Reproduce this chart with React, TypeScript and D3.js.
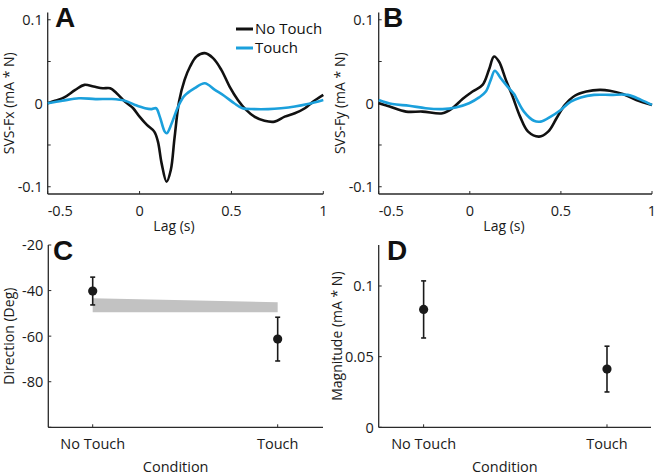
import React from "react";
import * as d3 from "d3";

// ---- Data ----
const lagA_noTouch = [-0.5,-0.46,-0.41,-0.35,-0.30,-0.25,-0.20,-0.16,-0.125,-0.08,-0.035,0.0,0.04,0.08,0.10,0.12,0.147,0.17,0.19,0.215,0.245,0.275,0.31,0.355,0.40,0.445,0.49,0.535,0.58,0.625,0.68,0.735,0.79,0.845,0.9,0.945,1.0];
const valA_noTouch = [0.000,0.003,0.007,0.016,0.022,0.020,0.018,0.018,0.012,0.002,-0.006,-0.016,-0.026,-0.034,-0.046,-0.072,-0.094,-0.080,-0.042,0.002,0.028,0.044,0.056,0.060,0.054,0.040,0.020,0.004,-0.008,-0.016,-0.021,-0.022,-0.016,-0.012,-0.006,0.002,0.010];
const lagA_touch = [-0.5,-0.42,-0.33,-0.24,-0.15,-0.08,-0.025,0.03,0.065,0.09,0.11,0.137,0.148,0.175,0.21,0.245,0.30,0.355,0.41,0.46,0.515,0.56,0.625,0.70,0.77,0.845,0.915,1.0];
const valA_touch = [0.000,0.003,0.006,0.005,0.005,0.003,-0.002,-0.006,-0.007,-0.006,-0.016,-0.034,-0.036,-0.024,-0.004,0.009,0.018,0.024,0.016,0.009,0.000,-0.006,-0.007,-0.007,-0.006,-0.004,-0.001,0.004];
const lagB_noTouch = [-0.5,-0.44,-0.35,-0.26,-0.15,-0.096,-0.04,0.015,0.07,0.105,0.133,0.16,0.198,0.235,0.276,0.32,0.38,0.43,0.476,0.522,0.576,0.64,0.713,0.768,0.84,0.914,1.0];
const valB_noTouch = [0.000,-0.004,-0.010,-0.010,-0.012,-0.006,0.005,0.014,0.022,0.040,0.056,0.050,0.028,0.008,-0.016,-0.034,-0.040,-0.034,-0.018,-0.002,0.009,0.014,0.016,0.015,0.011,0.004,-0.002];
const lagB_touch = [-0.5,-0.425,-0.333,-0.242,-0.15,-0.077,-0.004,0.051,0.088,0.115,0.137,0.17,0.207,0.243,0.26,0.297,0.352,0.389,0.444,0.499,0.554,0.609,0.682,0.773,0.867,0.94,1.0];
const valB_touch = [0.004,-0.001,-0.003,-0.006,-0.007,-0.005,0.000,0.007,0.014,0.028,0.039,0.030,0.020,0.011,0.004,-0.010,-0.021,-0.022,-0.016,-0.008,0.002,0.007,0.010,0.010,0.010,0.004,-0.002];

const lagTicks = [-0.5, 0, 0.5, 1];
const lagTickLabels = ["-0.5", "0", "0.5", "1"];
const svsTicks = [-0.1, -0.05, 0, 0.05, 0.1];
const svsTickLabels = ["-0.1", "", "0", "", "0.1"];

const conditions = ["No Touch", "Touch"];
const conditionPos = [1, 2];
const directionMean = [-40.2, -61.3];
const directionErr = [6.1, 9.6];
const bandPos = [1, 2];
const bandTop = [-43.4, -45.1];
const bandBottom = [-49.5, -49.5];
const dirTicks = [-100, -80, -60, -40, -20];
const dirTickLabels = ["", "-80", "-60", "-40", "-20"];

const magnitudeMean = [0.0834, 0.0412];
const magnitudeErr = [0.0202, 0.0162];
const magTicks = [0, 0.05, 0.1];
const magTickLabels = ["0", "0.05", "0.1"];

const BLACK = "#111111";
const BLUE = "#1ba0dc";
const AXIS = "#2a2a2a";
const TXT = "#1a1a1a";
const FONT = "'Open Sans', 'Noto Sans', sans-serif";

type Sc = d3.ScaleLinear<number, number>;

function Axes({ x, y, xTicks, xLabels, yTicks, yLabels, firstStart }: {
  x: Sc; y: Sc; xTicks: number[]; xLabels: string[]; yTicks: number[]; yLabels: string[]; firstStart?: boolean;
}) {
  const [x0, x1] = x.range();
  const [y0, y1] = y.range();
  return (
    <g>
      <line x1={x0} x2={x0} y1={y0} y2={y1} stroke={AXIS} strokeWidth={1.3} />
      <line x1={x0} x2={x1} y1={y0} y2={y0} stroke={AXIS} strokeWidth={1.3} />
      {yTicks.map((t, i) => (
        <g key={"y" + i}>
          <line x1={x0} x2={x0 + 3} y1={y(t)} y2={y(t)} stroke={AXIS} strokeWidth={1} />
          {yLabels[i] && (
            <text x={x0 - 5} y={y(t) + 1.5} textAnchor="end" dominantBaseline="middle" fontSize={14.5} fill={TXT} fontFamily={FONT}>
              {yLabels[i]}
            </text>
          )}
        </g>
      ))}
      {xTicks.map((t, i) => (
        <g key={"x" + i}>
          <line x1={x(t)} x2={x(t)} y1={y0} y2={y0 - 3} stroke={AXIS} strokeWidth={1} />
          <text x={x(t)} y={y0 + 22} textAnchor={firstStart && i === 0 ? "start" : "middle"} fontSize={14.5} fill={TXT} fontFamily={FONT}>
            {xLabels[i]}
          </text>
        </g>
      ))}
    </g>
  );
}

function LinePanel({ x, y, series, letter, letterX, ylabel, ylabelX, xlabelX, legend }: {
  x: Sc; y: Sc; series: { lag: number[]; val: number[]; color: string }[]; letter: string; letterX: number; ylabel: string; ylabelX: number; xlabelX: number; legend?: boolean;
}) {
  const line = d3.line<[number, number]>().x(d => x(d[0])).y(d => y(d[1])).curve(d3.curveCatmullRom.alpha(0.5));
  const yMid = (y.range()[0] + y.range()[1]) / 2;
  return (
    <g>
      <Axes x={x} y={y} xTicks={lagTicks} xLabels={lagTickLabels} yTicks={svsTicks} yLabels={svsTickLabels} firstStart />
      {series.map((s, i) => (
        <path key={i} d={line(s.lag.map((l, j) => [l, s.val[j]] as [number, number])) || ""} fill="none" stroke={s.color} strokeWidth={2.6} strokeLinejoin="round" />
      ))}
      <text x={letterX} y={27} fontSize={28} fontWeight="bold" fontFamily="'Liberation Sans', Arial, sans-serif" fill="#111">{letter}</text>
      <text transform={`translate(${ylabelX},${yMid}) rotate(-90)`} textAnchor="middle" fontSize={14} fill={TXT} fontFamily={FONT} dominantBaseline="middle">{ylabel}</text>
      <text x={xlabelX} y={231} textAnchor="middle" fontSize={14} fill={TXT} fontFamily={FONT}>Lag (s)</text>
      {legend && (
        <g fontFamily={FONT} fontSize={15} fill="#111">
          <line x1={236} x2={253} y1={29} y2={29} stroke={BLACK} strokeWidth={3} />
          <text x={255} y={34}>No Touch</text>
          <line x1={236} x2={253} y1={48} y2={48} stroke={BLUE} strokeWidth={3} />
          <text x={255} y={53}>Touch</text>
        </g>
      )}
    </g>
  );
}

function PointPanel({ x, y, mean, err, yTicks, yLabels, letter, letterX, ylabel, ylabelX, band }: {
  x: Sc; y: Sc; mean: number[]; err: number[]; yTicks: number[]; yLabels: string[]; letter: string; letterX: number; ylabel: string; ylabelX: number; band?: boolean;
}) {
  const yMid = (y.range()[0] + y.range()[1]) / 2;
  const xMid = (x.range()[0] + x.range()[1]) / 2;
  const area = d3.area<number>().x((_, i) => x(bandPos[i])).y0((_, i) => y(bandBottom[i])).y1((_, i) => y(bandTop[i]));
  return (
    <g>
      <Axes x={x} y={y} xTicks={conditionPos} xLabels={conditions} yTicks={yTicks} yLabels={yLabels} />
      {band && <path d={area(bandPos) || ""} fill="#c2c2c2" />}
      {mean.map((m, i) => {
        const cx = x(conditionPos[i]);
        return (
          <g key={i} stroke="#1a1a1a" strokeWidth={1.6}>
            <line x1={cx} x2={cx} y1={y(m + err[i])} y2={y(m - err[i])} />
            <line x1={cx - 2.5} x2={cx + 2.5} y1={y(m + err[i])} y2={y(m + err[i])} />
            <line x1={cx - 2.5} x2={cx + 2.5} y1={y(m - err[i])} y2={y(m - err[i])} />
            <circle cx={cx} cy={y(m)} r={4.6} fill="#1a1a1a" stroke="none" />
          </g>
        );
      })}
      <text x={letterX} y={260} fontSize={28} fontWeight="bold" fontFamily="'Liberation Sans', Arial, sans-serif" fill="#111">{letter}</text>
      <text transform={`translate(${ylabelX},${yMid}) rotate(-90)`} textAnchor="middle" fontSize={14} fill={TXT} fontFamily={FONT} dominantBaseline="middle">{ylabel}</text>
      <text x={xMid - 10} y={472} textAnchor="middle" fontSize={14.5} fill={TXT} fontFamily={FONT}>Condition</text>
    </g>
  );
}

export default function App() {
  const xA = d3.scaleLinear().domain([-0.5, 1]).range([47.7, 323.3]);
  const xB = d3.scaleLinear().domain([-0.5, 1]).range([378.7, 652]);
  const ySvs = d3.scaleLinear().domain([-0.1087, 0.1087]).range([194, 12.5]);
  const xC = d3.scaleLinear().domain([0.76, 2.245]).range([48.3, 323]);
  const yC = d3.scaleLinear().domain([-100, -20]).range([427.3, 245]);
  const xD = d3.scaleLinear().domain([0.755, 2.24]).range([378.7, 651]);
  const yD = d3.scaleLinear().domain([0, 0.129]).range([427.3, 245]);
  return (
    <svg width={656} height={475} style={{ position: "absolute", left: 0, top: 0, background: "#fff" }}>
      <rect width={656} height={475} fill="#fff" />
      <LinePanel x={xA} y={ySvs} letter="A" letterX={55} ylabel="SVS-Fx (mA * N)" ylabelX={10.5} xlabelX={174} legend
        series={[{ lag: lagA_noTouch, val: valA_noTouch, color: BLACK }, { lag: lagA_touch, val: valA_touch, color: BLUE }]} />
      <LinePanel x={xB} y={ySvs} letter="B" letterX={383} ylabel="SVS-Fy (mA * N)" ylabelX={341} xlabelX={504}
        series={[{ lag: lagB_noTouch, val: valB_noTouch, color: BLACK }, { lag: lagB_touch, val: valB_touch, color: BLUE }]} />
      <PointPanel x={xC} y={yC} mean={directionMean} err={directionErr} yTicks={dirTicks} yLabels={dirTickLabels}
        letter="C" letterX={53} ylabel="Direction (Deg)" ylabelX={10.5} band />
      <PointPanel x={xD} y={yD} mean={magnitudeMean} err={magnitudeErr} yTicks={magTicks} yLabels={magTickLabels}
        letter="D" letterX={387} ylabel="Magnitude (mA * N)" ylabelX={338} />
    </svg>
  );
}
